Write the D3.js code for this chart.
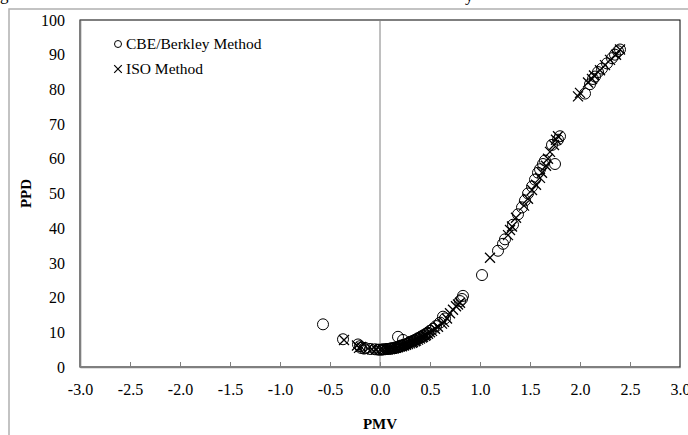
<!DOCTYPE html>
<html>
<head>
<meta charset="utf-8">
<script src="https://cdnjs.cloudflare.com/ajax/libs/d3/7.8.5/d3.min.js"></script>
<style>
	body { margin: 0; background: #fff; }
	svg { display: block; font-family: 'Liberation Serif', 'DejaVu Serif', serif; }
</style>
</head>
<body>
<svg></svg>
<script>
// CBE/Berkley method (circles)
var cbePmv = [-0.57, -0.37, -0.22, -0.2, -0.19, -0.16, -0.15, -0.1, -0.05, -0.02, 0.0, 0.02, 0.03, 0.05, 0.07, 0.08, 0.1, 0.11, 0.12, 0.14, 0.15, 0.17, 0.18, 0.19, 0.2, 0.21, 0.22, 0.23, 0.24, 0.25, 0.27, 0.28, 0.29, 0.3, 0.31, 0.32, 0.34, 0.35, 0.37, 0.38, 0.4, 0.41, 0.42, 0.44, 0.45, 0.47, 0.48, 0.5, 0.53, 0.56, 0.6, 0.63, 0.65, 0.8, 0.82, 0.83, 1.02, 1.18, 1.23, 1.25, 1.33, 1.38, 1.42, 1.45, 1.48, 1.52, 1.55, 1.58, 1.6, 1.63, 1.65, 1.75, 1.72, 1.78, 1.8, 2.05, 2.1, 2.13, 2.15, 2.18, 2.22, 2.27, 2.32, 2.35, 2.38, 2.4];
var cbePpd = [12.3, 8, 6.5, 6, 5.5, 5.3, 5.5, 5.2, 5.1, 5, 5, 5, 5.1, 5.1, 5.2, 5.2, 5.3, 5.3, 5.4, 5.4, 5.6, 5.6, 8.7, 5.8, 6, 6.2, 6.1, 7.8, 6.4, 6.4, 6.7, 6.8, 7.0, 7.2, 7.3, 7.4, 7.6, 7.8, 8.0, 8.3, 8.5, 8.6, 8.9, 9.1, 9.4, 9.6, 9.9, 10.4, 11, 11.8, 12.8, 14.5, 14, 19, 19.6, 20.5, 26.5, 33.5, 35.5, 36.8, 41, 44, 46, 48, 50, 52, 54, 56, 57, 58.5, 59.5, 58.5, 64, 65.5, 66.5, 78.8, 81.5, 83, 83.7, 85, 86, 87.5, 89, 90, 91, 91.5];

// ISO method (crosses)
var isoPmv = [-0.36, -0.23, -0.21, -0.19, -0.12, -0.08, -0.04, 0.0, 0.03, 0.06, 0.08, 0.1, 0.12, 0.14, 0.16, 0.18, 0.2, 0.22, 0.24, 0.26, 0.28, 0.3, 0.32, 0.33, 0.35, 0.36, 0.38, 0.4, 0.42, 0.43, 0.45, 0.46, 0.48, 0.5, 0.52, 0.55, 0.58, 0.62, 0.64, 0.67, 0.7, 0.73, 0.76, 0.78, 0.8, 1.1, 1.28, 1.3, 1.32, 1.36, 1.44, 1.48, 1.52, 1.56, 1.6, 1.62, 1.66, 1.68, 1.7, 1.74, 1.76, 1.78, 1.98, 2.0, 2.08, 2.12, 2.14, 2.2, 2.25, 2.3, 2.36, 2.4];
var isoPpd = [7.8, 6.2, 5.5, 5.8, 5.3, 5.1, 5.05, 5, 5.0, 5.1, 5.1, 5.2, 5.3, 5.4, 5.5, 5.7, 5.9, 6, 6.2, 6.4, 6.6, 6.8, 7.0, 7.2, 7.4, 7.6, 7.9, 8.2, 8.5, 8.7, 9, 9.2, 9.6, 10, 10.4, 11, 11.6, 12.5, 13, 14, 15.5, 16.5, 17.5, 18, 18.5, 31.5, 38, 39.5, 40.5, 43, 46.5, 48.5, 51, 52.5, 54.5, 56, 58, 60, 62, 64, 65.5, 66.5, 78, 79, 82, 83, 84, 85.5, 87, 88.5, 90, 91.5];

var xTicks = [-3, -2.5, -2, -1.5, -1, -0.5, 0, 0.5, 1, 1.5, 2, 2.5, 3];
var yTicks = [0, 10, 20, 30, 40, 50, 60, 70, 80, 90, 100];
var legendNames = ['CBE/Berkley Method', 'ISO Method'];

var svg = d3.select('svg')
	.attr('width', 688)
	.attr('height', 435);

var plotLeft = 80, plotRight = 680, plotTop = 20, plotBottom = 367;

var x = d3.scaleLinear().domain([-3, 3]).range([plotLeft, plotRight]);
var y = d3.scaleLinear().domain([0, 100]).range([plotBottom, plotTop]);

// cut-off caption remnants and outer chart frame
svg.append('text').attr('x', 0).attr('y', 0).attr('font-size', 17).text('g');
svg.append('text').attr('x', 465).attr('y', 1).attr('font-size', 17).text('y');
svg.append('path')
	.attr('d', 'M9,435V9H688')
	.attr('fill', 'none')
	.attr('stroke', '#b0b0b0')
	.attr('stroke-width', 1.5);

// plot area border
svg.append('rect')
	.attr('x', plotLeft).attr('y', plotTop)
	.attr('width', plotRight - plotLeft).attr('height', plotBottom - plotTop)
	.attr('fill', 'none')
	.attr('stroke', '#000')
	.attr('stroke-width', 1);

// vertical line at PMV = 0
svg.append('line')
	.attr('x1', x(0)).attr('x2', x(0))
	.attr('y1', plotTop).attr('y2', plotBottom)
	.attr('stroke', '#808080')
	.attr('stroke-width', 1);

// x axis
var xAxis = d3.axisBottom(x)
	.tickValues(xTicks)
	.tickSizeInner(-5)
	.tickSizeOuter(0)
	.tickPadding(17)
	.tickFormat(function(d) { return d.toFixed(1); });

var gx = svg.append('g')
	.attr('transform', 'translate(0,' + plotBottom + ')')
	.call(xAxis);
gx.select('.domain').attr('stroke', '#7f7f7f').attr('stroke-width', 1.6);
gx.selectAll('.tick line').attr('stroke', '#7f7f7f');
gx.selectAll('.tick text')
	.attr('font-size', 16)
	.attr('font-family', 'Liberation Serif')
	.attr('fill', '#000');

// y axis
var yAxis = d3.axisLeft(y)
	.tickValues(yTicks)
	.tickSize(0)
	.tickPadding(15);

var gy = svg.append('g')
	.attr('transform', 'translate(' + plotLeft + ',0)')
	.call(yAxis);
gy.select('.domain').attr('stroke', '#7f7f7f').attr('stroke-width', 1.6);
gy.selectAll('.tick text')
	.attr('font-size', 16)
	.attr('font-family', 'Liberation Serif')
	.attr('fill', '#000');

// axis titles
svg.append('text')
	.attr('x', x(0))
	.attr('y', 429)
	.attr('text-anchor', 'middle')
	.attr('font-size', 15)
	.attr('font-weight', 'bold')
	.text('PMV');

svg.append('text')
	.attr('transform', 'translate(31,' + ((plotTop + plotBottom) / 2) + ') rotate(-90)')
	.attr('text-anchor', 'middle')
	.attr('font-size', 15)
	.attr('font-weight', 'bold')
	.text('PPD');

// series
var cbe = cbePmv.map(function(d, i) { return [d, cbePpd[i]]; });
var iso = isoPmv.map(function(d, i) { return [d, isoPpd[i]]; });

svg.append('g').selectAll('circle')
	.data(cbe)
	.enter().append('circle')
	.attr('cx', function(d) { return x(d[0]); })
	.attr('cy', function(d) { return y(d[1]); })
	.attr('r', 5.5)
	.attr('fill', 'none')
	.attr('stroke', '#000')
	.attr('stroke-width', 1);

var cross = function(s) {
	return 'M' + (-s) + ',' + (-s) + 'L' + s + ',' + s + 'M' + (-s) + ',' + s + 'L' + s + ',' + (-s);
};

svg.append('g').selectAll('path')
	.data(iso)
	.enter().append('path')
	.attr('transform', function(d) { return 'translate(' + x(d[0]) + ',' + y(d[1]) + ')'; })
	.attr('d', cross(5))
	.attr('fill', 'none')
	.attr('stroke', '#000')
	.attr('stroke-width', 1.3);

// legend
var legend = svg.append('g');
legend.append('circle')
	.attr('cx', 118).attr('cy', 44).attr('r', 3.5)
	.attr('fill', 'none').attr('stroke', '#000');
legend.append('path')
	.attr('transform', 'translate(118,69)')
	.attr('d', cross(3.8))
	.attr('fill', 'none').attr('stroke', '#000').attr('stroke-width', 1.2);
legend.selectAll('text')
	.data(legendNames)
	.enter().append('text')
	.attr('x', 126)
	.attr('y', function(d, i) { return 49 + i * 25; })
	.attr('font-size', 15.5)
	.text(function(d) { return d; });
</script>
</body>
</html>
